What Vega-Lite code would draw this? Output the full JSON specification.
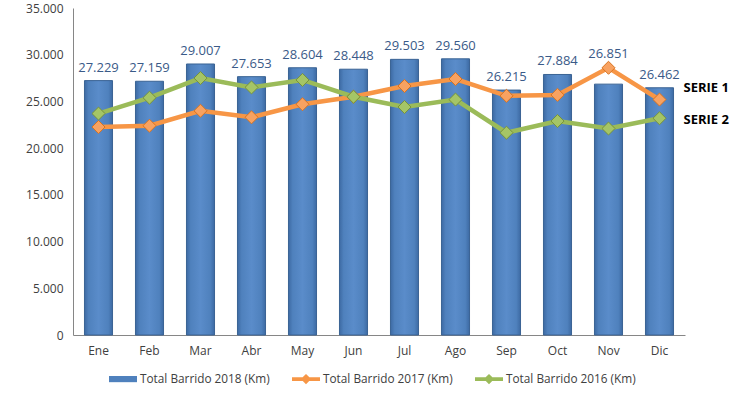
{
  "$schema": "https://vega.github.io/schema/vega-lite/v6.json",
  "width": 612,
  "height": 327,
  "autosize": {"type": "none"},
  "padding": {"left": 73, "top": 8, "right": 57, "bottom": 63},
  "background": "white",
  "config": {
    "font": "Open Sans",
    "view": {"stroke": null},
    "locale": {"number": {"decimal": ",", "thousands": ".", "grouping": [3], "currency": ["", " €"]}},
    "axis": {"domainColor": "#868686", "domainWidth": 1, "ticks": false, "grid": false, "labelColor": "#404040", "labelFontSize": 12, "title": null}
  },
  "resolve": {"legend": {"color": "independent", "shape": "independent", "fill": "independent", "stroke": "independent"}},
  "datasets": {
    "bars": [
      {"month": "Ene", "value": 27229},
      {"month": "Feb", "value": 27159},
      {"month": "Mar", "value": 29007},
      {"month": "Abr", "value": 27653},
      {"month": "May", "value": 28604},
      {"month": "Jun", "value": 28448},
      {"month": "Jul", "value": 29503},
      {"month": "Ago", "value": 29560},
      {"month": "Sep", "value": 26215},
      {"month": "Oct", "value": 27884},
      {"month": "Nov", "value": 26851},
      {"month": "Dic", "value": 26462}
    ],
    "lines": [
      {"month": "Ene", "series": "Total Barrido 2017 (Km)", "value": 22260},
      {"month": "Feb", "series": "Total Barrido 2017 (Km)", "value": 22400},
      {"month": "Mar", "series": "Total Barrido 2017 (Km)", "value": 24000},
      {"month": "Abr", "series": "Total Barrido 2017 (Km)", "value": 23300},
      {"month": "May", "series": "Total Barrido 2017 (Km)", "value": 24700},
      {"month": "Jun", "series": "Total Barrido 2017 (Km)", "value": 25500},
      {"month": "Jul", "series": "Total Barrido 2017 (Km)", "value": 26650},
      {"month": "Ago", "series": "Total Barrido 2017 (Km)", "value": 27400},
      {"month": "Sep", "series": "Total Barrido 2017 (Km)", "value": 25600},
      {"month": "Oct", "series": "Total Barrido 2017 (Km)", "value": 25700},
      {"month": "Nov", "series": "Total Barrido 2017 (Km)", "value": 28600},
      {"month": "Dic", "series": "Total Barrido 2017 (Km)", "value": 25200},
      {"month": "Ene", "series": "Total Barrido 2016 (Km)", "value": 23700},
      {"month": "Feb", "series": "Total Barrido 2016 (Km)", "value": 25400},
      {"month": "Mar", "series": "Total Barrido 2016 (Km)", "value": 27500},
      {"month": "Abr", "series": "Total Barrido 2016 (Km)", "value": 26500},
      {"month": "May", "series": "Total Barrido 2016 (Km)", "value": 27300},
      {"month": "Jun", "series": "Total Barrido 2016 (Km)", "value": 25500},
      {"month": "Jul", "series": "Total Barrido 2016 (Km)", "value": 24400},
      {"month": "Ago", "series": "Total Barrido 2016 (Km)", "value": 25200},
      {"month": "Sep", "series": "Total Barrido 2016 (Km)", "value": 21650},
      {"month": "Oct", "series": "Total Barrido 2016 (Km)", "value": 22900},
      {"month": "Nov", "series": "Total Barrido 2016 (Km)", "value": 22100},
      {"month": "Dic", "series": "Total Barrido 2016 (Km)", "value": 23200}
    ],
    "notes": [
      {"month": "Dic", "label": "SERIE 1", "value": 26440},
      {"month": "Dic", "label": "SERIE 2", "value": 23010}
    ]
  },
  "layer": [
    {
      "data": {"name": "bars"},
      "mark": {
        "type": "bar",
        "stroke": "#3A6394",
        "strokeWidth": 1,
        "color": {
          "gradient": "linear", "x1": 0, "y1": 0, "x2": 1, "y2": 0,
          "stops": [
            {"offset": 0, "color": "#3D6AA3"},
            {"offset": 0.15, "color": "#4F81BD"},
            {"offset": 0.5, "color": "#5A8CCA"},
            {"offset": 0.85, "color": "#4F81BD"},
            {"offset": 1, "color": "#3D6AA3"}
          ]
        }
      },
      "encoding": {
        "x": {
          "field": "month", "type": "nominal",
          "scale": {"domain": ["Ene","Feb","Mar","Abr","May","Jun","Jul","Ago","Sep","Oct","Nov","Dic"], "paddingInner": 0.45, "paddingOuter": 0.225},
          "axis": {"labelAngle": 0, "labelPadding": 10}
        },
        "y": {
          "field": "value", "type": "quantitative",
          "scale": {"domain": [0, 35000], "nice": false},
          "axis": {"values": [0, 5000, 10000, 15000, 20000, 25000, 30000, 35000], "format": ",.0f", "labelPadding": 10}
        }
      }
    },
    {
      "data": {"name": "bars"},
      "transform": [{"filter": "datum.month != 'Nov'"}],
      "mark": {"type": "text", "dy": -13, "fontSize": 13, "color": "#3A5A88"},
      "encoding": {
        "x": {"field": "month", "type": "nominal"},
        "y": {"field": "value", "type": "quantitative"},
        "text": {"field": "value", "type": "quantitative", "format": ",.0f"}
      }
    },
    {
      "data": {"name": "bars"},
      "transform": [{"filter": "datum.month == 'Nov'"}],
      "mark": {"type": "text", "dy": -30, "fontSize": 13, "color": "#3A5A88"},
      "encoding": {
        "x": {"field": "month", "type": "nominal"},
        "y": {"field": "value", "type": "quantitative"},
        "text": {"field": "value", "type": "quantitative", "format": ",.0f"}
      }
    },
    {
      "data": {"name": "lines"},
      "mark": {"type": "line", "strokeWidth": 4.5},
      "encoding": {
        "x": {"field": "month", "type": "nominal"},
        "y": {"field": "value", "type": "quantitative"},
        "color": {
          "field": "series", "type": "nominal",
          "scale": {"domain": ["Total Barrido 2018 (Km)", "Total Barrido 2017 (Km)", "Total Barrido 2016 (Km)"], "range": ["#4F81BD", "#F79646", "#9BBB59"]},
          "legend": null
        }
      }
    },
    {
      "data": {"name": "lines"},
      "mark": {"type": "point", "shape": "diamond", "filled": true, "size": 170, "strokeWidth": 1, "opacity": 1},
      "encoding": {
        "x": {"field": "month", "type": "nominal"},
        "y": {"field": "value", "type": "quantitative"},
        "fill": {
          "field": "series", "type": "nominal",
          "scale": {"domain": ["Total Barrido 2017 (Km)", "Total Barrido 2016 (Km)"], "range": ["#F8A261", "#A5C566"]},
          "legend": null
        },
        "stroke": {
          "field": "series", "type": "nominal",
          "scale": {"domain": ["Total Barrido 2017 (Km)", "Total Barrido 2016 (Km)"], "range": ["#D9731F", "#76923C"]},
          "legend": null
        }
      }
    },
    {
      "data": {"name": "lines"},
      "transform": [{"filter": "datum.month == 'none'"}],
      "mark": {"type": "point", "filled": true, "opacity": 1},
      "encoding": {
        "x": {"field": "month", "type": "nominal"},
        "y": {"field": "value", "type": "quantitative"},
        "color": {
          "field": "series", "type": "nominal",
          "legend": {
            "orient": "none", "legendX": 36, "legendY": 357, "direction": "horizontal", "columns": 3,
            "title": null, "symbolSize": 784, "symbolStrokeWidth": 0, "symbolOpacity": 1,
            "labelFontSize": 11.8, "labelColor": "#404040", "labelOffset": 3, "columnPadding": 22, "labelLimit": 300
          }
        },
        "shape": {
          "field": "series", "type": "nominal",
          "scale": {
            "domain": ["Total Barrido 2018 (Km)", "Total Barrido 2017 (Km)", "Total Barrido 2016 (Km)"],
            "range": [
              "M-1,-0.22H1V0.22H-1Z",
              "M-1,-0.13H1V0.13H-1ZM0,-0.37L0.37,0L0,0.37L-0.37,0Z",
              "M-1,-0.13H1V0.13H-1ZM0,-0.37L0.37,0L0,0.37L-0.37,0Z"
            ]
          },
          "legend": {
            "orient": "none", "legendX": 36, "legendY": 357, "direction": "horizontal", "columns": 3,
            "title": null, "symbolSize": 784, "symbolStrokeWidth": 0, "symbolOpacity": 1,
            "labelFontSize": 11.8, "labelColor": "#404040", "labelOffset": 3, "columnPadding": 22, "labelLimit": 300
          }
        }
      }
    },
    {
      "data": {"name": "notes"},
      "mark": {"type": "text", "align": "left", "dx": 24, "fontSize": 13, "fontWeight": "bold", "color": "#000000"},
      "encoding": {
        "x": {"field": "month", "type": "nominal"},
        "y": {"field": "value", "type": "quantitative"},
        "text": {"field": "label", "type": "nominal"}
      }
    }
  ]
}
